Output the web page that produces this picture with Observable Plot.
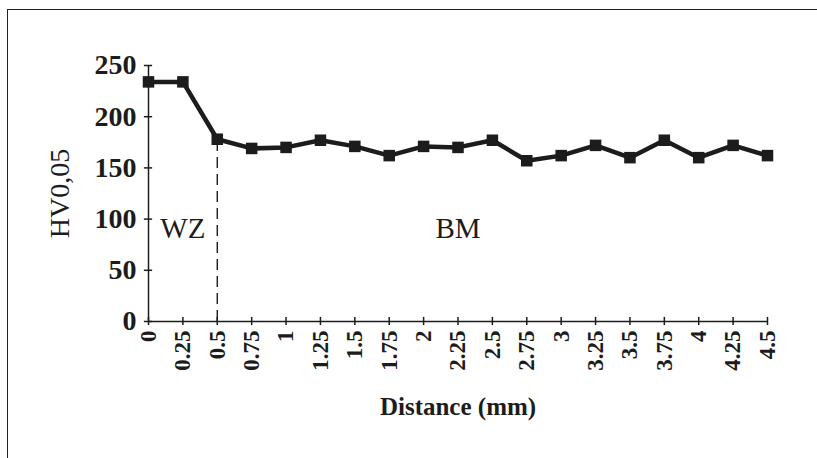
<!DOCTYPE html>
<html>
<head>
<meta charset="utf-8">
<script src="https://cdn.jsdelivr.net/npm/d3@7"></script>
<script src="https://cdn.jsdelivr.net/npm/@observablehq/plot@0.6"></script>
<style>
  html, body { margin: 0; padding: 0; background: #ffffff; overflow: hidden; }
  #wrap { position: relative; width: 817px; height: 458px; overflow: hidden; }
  #wrap svg { display: block; }
  #border { position: absolute; left: 7px; top: 9px; width: 830px; height: 470px; border-top: 1.5px solid #222; border-left: 1.5px solid #222; pointer-events: none; }
</style>
</head>
<body>
<div id="wrap"><div id="border"></div></div>
<script>
const distance = [0, 0.25, 0.5, 0.75, 1, 1.25, 1.5, 1.75, 2, 2.25, 2.5, 2.75, 3, 3.25, 3.5, 3.75, 4, 4.25, 4.5];
const hardness = [234, 234, 178, 169, 170, 177, 171, 162, 171, 170, 177, 157, 162, 172, 160, 177, 160, 172, 162];
const xTicks = distance;
const xTickLabels = ["0", "0.25", "0.5", "0.75", "1", "1.25", "1.5", "1.75", "2", "2.25", "2.5", "2.75", "3", "3.25", "3.5", "3.75", "4", "4.25", "4.5"];
const yTicks = [0, 50, 100, 150, 200, 250];
const zoneLabels = ["WZ", "BM"];
const boundary = [0.5];

const data = distance.map((d, i) => ({x: d, y: hardness[i]}));
const ink = "#1c1c1c";
const serif = "'Liberation Serif', 'DejaVu Serif', serif";

const chart = Plot.plot({
  width: 817,
  height: 458,
  marginLeft: 148,
  marginRight: 50,
  marginTop: 65,
  marginBottom: 137,
  style: {fontFamily: serif, color: ink, background: "transparent", overflow: "visible"},
  x: {domain: [0, 4.5]},
  y: {domain: [0, 250]},
  marks: [
    Plot.axisX(xTicks, {tickSize: 0, tickPadding: 9, tickRotate: -90, fontSize: 23, fontWeight: "bold", tickFormat: (d) => xTickLabels[xTicks.indexOf(d)], label: null}),
    Plot.axisY(yTicks, {tickSize: 0, tickPadding: 12, fontSize: 28, fontWeight: "bold", label: null}),
    Plot.ruleY([0], {stroke: ink, strokeWidth: 1.5}),
    Plot.ruleX([0], {y1: 0, y2: 250, stroke: ink, strokeWidth: 1.5}),
    Plot.ruleX(xTicks, {y1: -4, y2: 4, stroke: ink, strokeWidth: 1.5}),
    Plot.ruleY(yTicks, {x1: -0.03, x2: 0.03, stroke: ink, strokeWidth: 1.5}),
    Plot.ruleX(boundary, {y1: 0, y2: hardness[distance.indexOf(0.5)], stroke: ink, strokeWidth: 1.4, strokeDasharray: "11,6"}),
    Plot.line(data, {x: "x", y: "y", stroke: ink, strokeWidth: 4.5}),
    Plot.dot(data, {x: "x", y: "y", symbol: "square", r: 6.5, fill: ink, stroke: "none"}),
    Plot.text([zoneLabels[0]], {x: 0.25, y: 91, text: (d) => d, fontSize: 29, fill: ink}),
    Plot.text([zoneLabels[1]], {x: 2.25, y: 91, text: (d) => d, fontSize: 29, fill: ink}),
    Plot.text(["HV0,05"], {frameAnchor: "left", textAnchor: "middle", dx: -88, rotate: -90, text: (d) => d, fontSize: 28, fill: ink}),
    Plot.text(["Distance (mm)"], {frameAnchor: "bottom", dy: 93, text: (d) => d, fontSize: 25, fontWeight: "bold", fill: ink})
  ]
});
document.getElementById("wrap").prepend(chart);
</script>
</body>
</html>
